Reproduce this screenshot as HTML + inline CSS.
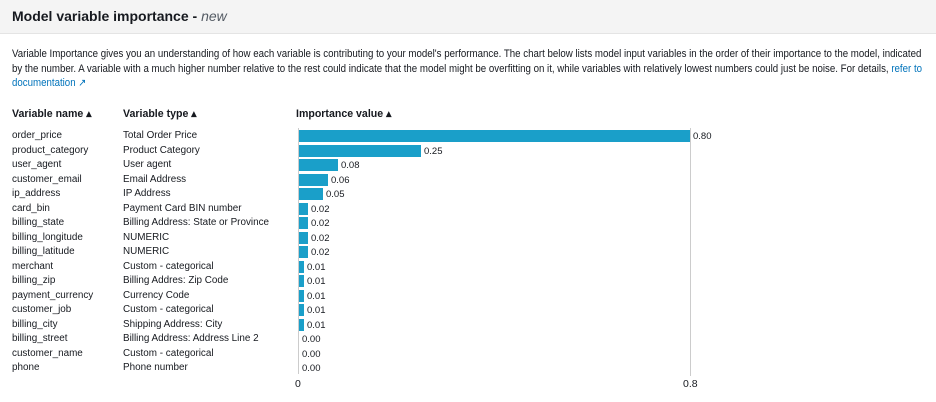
<!DOCTYPE html>
<html><head><meta charset="utf-8"><style>
body{margin:0;width:936px;height:402px;background:#fff;font-family:"Liberation Sans",sans-serif;color:#16191f;position:relative;overflow:hidden}
.hdr{position:absolute;left:0;top:0;width:936px;height:33px;background:#f4f4f4;border-bottom:1px solid #e4e4e4}
.t{position:absolute;left:12px;top:8px;font-size:14px;font-weight:bold}
.t i{font-weight:normal;color:#545b64}
.p{position:absolute;left:12px;top:47px;font-size:10.6px;line-height:14.5px;white-space:nowrap;transform:scaleX(0.915);transform-origin:0 0}
a{color:#0073bb;text-decoration:none}
.h{position:absolute;top:108px;font-size:10.6px;font-weight:bold}
.r{position:absolute;font-size:9.9px;line-height:12px}
.bar{position:absolute;left:299px;height:12px;background:#1a9fc9}
.v{position:absolute;font-size:9.5px;font-family:"Liberation Sans",sans-serif}
</style></head><body>
<div class="hdr"></div>
<div class="t">Model variable importance - <i>new</i></div>
<div class="p">Variable Importance gives you an understanding of how each variable is contributing to your model's performance. The chart below lists model input variables in the order of their importance to the model, indicated<br>by the number. A variable with a much higher number relative to the rest could indicate that the model might be overfitting on it, while variables with relatively lowest numbers could just be noise. For details, <a>refer to</a><br><a>documentation ↗</a></div>
<div class="h" style="left:12px">Variable name ▴</div>
<div class="h" style="left:123px">Variable type ▴</div>
<div class="h" style="left:296px">Importance value ▴</div>
<div style="position:absolute;left:298px;top:128px;width:1px;height:246px;background:#ccc"></div>
<div style="position:absolute;left:690px;top:128px;width:1px;height:248px;background:#ccc"></div>
<div class="v" style="left:295px;top:378px;font-size:10.5px">0</div>
<div class="v" style="left:683px;top:378px;font-size:10.5px">0.8</div>
<div id="rows"></div>
<script>
var d=[["order_price","Total Order Price",.80],["product_category","Product Category",.25],["user_agent","User agent",.08],["customer_email","Email Address",.06],["ip_address","IP Address",.05],["card_bin","Payment Card BIN number",.02],["billing_state","Billing Address: State or Province",.02],["billing_longitude","NUMERIC",.02],["billing_latitude","NUMERIC",.02],["merchant","Custom - categorical",.01],["billing_zip","Billing Addres: Zip Code",.01],["payment_currency","Currency Code",.01],["customer_job","Custom - categorical",.01],["billing_city","Shipping Address: City",.01],["billing_street","Billing Address: Address Line 2",0],["customer_name","Custom - categorical",0],["phone","Phone number",0]];
var w=[391,122,39,29,24,9,9,9,9,5,5,5,5,5,0,0,0];
var h="";
d.forEach(function(r,i){var y=130+i*14.5;
h+='<div class="r" style="left:12px;top:'+(y)+'px">'+r[0]+'</div><div class="r" style="left:123px;top:'+y+'px">'+r[1]+'</div>';
if(w[i])h+='<div class="bar" style="top:'+y+'px;width:'+w[i]+'px"></div>';
h+='<div class="v" style="left:'+(299+w[i]+3)+'px;top:'+(y+1)+'px">'+r[2].toFixed(2)+'</div>';});
document.getElementById("rows").innerHTML=h;
</script>
</body></html>
